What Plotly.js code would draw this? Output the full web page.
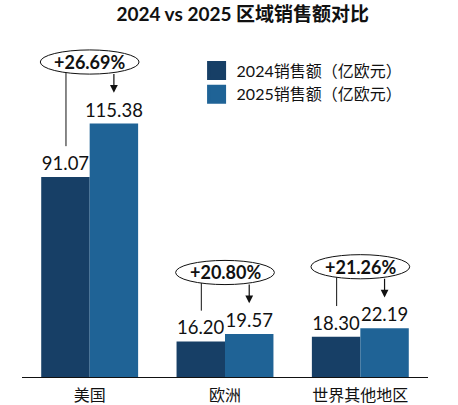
<!DOCTYPE html>
<html>
<head>
<meta charset="utf-8">
<script src="https://cdn.plot.ly/plotly-3.0.1.min.js"></script>
<style>html,body{margin:0;padding:0;background:#fff;}#chart{width:458px;height:405px;}</style>
</head>
<body>
<div id="chart"></div>
<script>
const categories = ['美国', '欧洲', '世界其他地区'];
const sales2024 = [91.07, 16.20, 18.30];
const sales2025 = [115.38, 19.57, 22.19];
const growthLabels = ['+26.69%', '+20.80%', '+21.26%'];
const seriesNames = ['2024销售额（亿欧元）', '2025销售额（亿欧元）'];
const colors = ['#173f66', '#1f6396'];

const FONT = "Lato, 'Noto Sans CJK SC', sans-serif";

const traces = [
  {type:'bar', x:categories, y:sales2024, marker:{color:colors[0]}, showlegend:false,
   texttemplate:'%{y:.2f}', textposition:'outside', cliponaxis:false, constraintext:'none',
   textfont:{size:18.5, color:'#111', family:FONT}, hoverinfo:'skip'},
  {type:'bar', x:categories, y:sales2025, marker:{color:colors[1]}, showlegend:false,
   texttemplate:'%{y:.2f}', textposition:'outside', cliponaxis:false, constraintext:'none',
   textfont:{size:18.5, color:'#111', family:FONT}, hoverinfo:'skip'},
  {type:'scatter', mode:'markers', x:[null], y:[null], name:seriesNames[0],
   marker:{symbol:'square', size:16, color:colors[0], line:{width:3,color:colors[0]}}},
  {type:'scatter', mode:'markers', x:[null], y:[null], name:seriesNames[1],
   marker:{symbol:'square', size:16, color:colors[1], line:{width:3,color:colors[1]}}}
];

const shapes = [];
const annotations = [];
const off = 0.179, rx = 0.365, ry = 5.5, lift = 28, gapAbove = 14;
categories.forEach((c, i) => {
  const top = Math.max(sales2024[i], sales2025[i]);
  const cy = top + lift;
  shapes.push({type:'circle', xref:'x', yref:'y', x0:i-rx, x1:i+rx, y0:cy-ry, y1:cy+ry,
    line:{color:'#111', width:1}, fillcolor:'rgba(255,255,255,0)'});
  const edgeL = cy - ry*Math.sqrt(1 - Math.pow(0.175/rx, 2));
  shapes.push({type:'line', xref:'x', yref:'y', x0:i-0.175, x1:i-0.175, y0:edgeL, y1:sales2024[i]+gapAbove,
    line:{color:'#111', width:1}});
  const edgeR = cy - ry*Math.sqrt(1 - Math.pow(off/rx, 2));
  annotations.push({xref:'x', yref:'y', axref:'x', ayref:'y', x:i+off, y:sales2025[i]+gapAbove,
    ax:i+off, ay:edgeR, text:'', showarrow:true, arrowhead:2, arrowsize:1.3, arrowwidth:1.2,
    arrowcolor:'#111', standoff:0, startstandoff:0});
  annotations.push({xref:'x', yref:'y', x:i, y:cy, text:'<b>'+growthLabels[i]+'</b>', showarrow:false,
    font:{size:18, color:'#111', family:FONT}});
});

const layout = {
  width:458, height:405,
  margin:{l:22, r:30, t:40, b:28},
  paper_bgcolor:'#fff', plot_bgcolor:'#fff',
  title:{text:'<b>2024 vs 2025 区域销售额对比</b>', x:0.53, xanchor:'center', y:0.965, yanchor:'middle',
    font:{size:19, color:'#111', family:FONT}},
  barmode:'group', bargap:0.284, bargroupgap:0,
  xaxis:{type:'category', showline:true, linecolor:'#111', linewidth:1.3, ticks:'', showgrid:false,
    zeroline:false, tickfont:{size:16, color:'#111', family:FONT}, ticklabelstandoff:3, fixedrange:true},
  yaxis:{range:[0, 153.4], visible:false, showgrid:false, zeroline:false, fixedrange:true},
  showlegend:true,
  legend:{x:0.43, xanchor:'left', y:0.96, yanchor:'top', bgcolor:'rgba(0,0,0,0)',
    font:{size:16, color:'#111', family:FONT}, itemwidth:30, tracegroupgap:0},
  shapes:shapes, annotations:annotations
};

Plotly.newPlot('chart', traces, layout, {displayModeBar:false, staticPlot:true});
</script>
</body>
</html>
